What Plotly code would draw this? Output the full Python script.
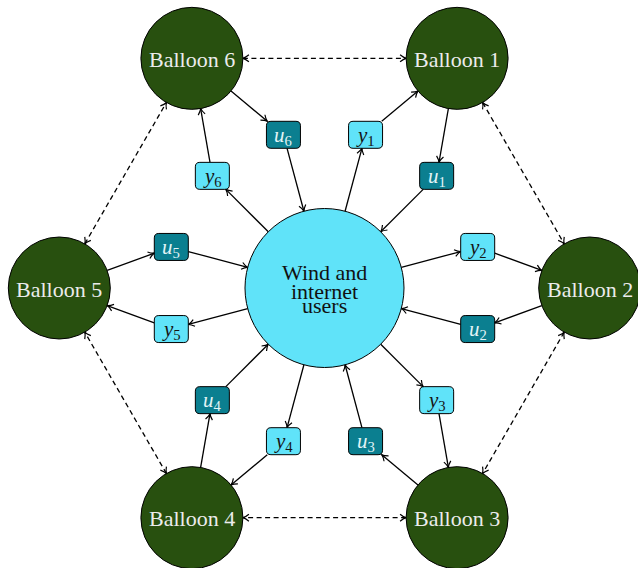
import math
import plotly.graph_objects as go

# ---------------- data ----------------
balloon_names = ["Balloon 1", "Balloon 2", "Balloon 3", "Balloon 4", "Balloon 5", "Balloon 6"]
balloon_angles_deg = [60, 0, -60, -120, 180, 120]
center_lines = ["Wind and", "internet", "users"]
y_labels = ["<i>y</i><sub>1</sub>", "<i>y</i><sub>2</sub>", "<i>y</i><sub>3</sub>",
            "<i>y</i><sub>4</sub>", "<i>y</i><sub>5</sub>", "<i>y</i><sub>6</sub>"]
u_labels = ["<i>u</i><sub>1</sub>", "<i>u</i><sub>2</sub>", "<i>u</i><sub>3</sub>",
            "<i>u</i><sub>4</sub>", "<i>u</i><sub>5</sub>", "<i>u</i><sub>6</sub>"]
# balloon links (dashed, both ways): pairs of balloon indices
balloon_links = [(5, 0), (0, 1), (1, 2), (2, 3), (3, 4), (4, 5)]

# ---------------- geometry / style ----------------
W, H = 638, 568
CX, CY = 324.5, 288.0
R_BALLOON = 265.2
R_LABEL = 158.6
r_center = 79.5
r_ball = 51.0
box_hw, box_hh = 17.0, 13.5
label_offset = 15

CYAN = "#60e3f9"
GREEN = "#28500f"
TEAL = "#0b7f90"
FONT = "'Liberation Serif', 'Times New Roman', 'DejaVu Serif', serif"

def polar(r, deg):
    a = math.radians(deg)
    return (CX + r * math.cos(a), CY - r * math.sin(a))

balloon_pos = [polar(R_BALLOON, a) for a in balloon_angles_deg]
y_pos = [polar(R_LABEL, a + label_offset) for a in balloon_angles_deg]
u_pos = [polar(R_LABEL, a - label_offset) for a in balloon_angles_deg]

shapes = []
annotations = []

def circle_shape(c, r, fill):
    shapes.append(dict(type="circle", xref="x", yref="y",
                       x0=c[0] - r, x1=c[0] + r, y0=c[1] - r, y1=c[1] + r,
                       fillcolor=fill, line=dict(color="black", width=1)))

def rbox_shape(c, fill, rad=4.5):
    x0, x1 = c[0] - box_hw, c[0] + box_hw
    y0, y1 = c[1] - box_hh, c[1] + box_hh
    p = (f"M {x0+rad},{y0} L {x1-rad},{y0} Q {x1},{y0} {x1},{y0+rad} "
         f"L {x1},{y1-rad} Q {x1},{y1} {x1-rad},{y1} L {x0+rad},{y1} "
         f"Q {x0},{y1} {x0},{y1-rad} L {x0},{y0+rad} Q {x0},{y0} {x0+rad},{y0} Z")
    shapes.append(dict(type="path", xref="x", yref="y", path=p,
                       fillcolor=fill, line=dict(color="black", width=1)))

def clip(node, toward):
    kind, c = node
    dx, dy = toward[0] - c[0], toward[1] - c[1]
    d = math.hypot(dx, dy)
    ux, uy = dx / d, dy / d
    if kind == "circle_c":
        t = r_center
    elif kind == "circle_b":
        t = r_ball
    else:
        tx = box_hw / abs(ux) if abs(ux) > 1e-9 else 1e9
        ty = box_hh / abs(uy) if abs(uy) > 1e-9 else 1e9
        t = min(tx, ty)
    return (c[0] + ux * t, c[1] + uy * t)

def arrow_tip(tip, frm, L=6.0, Wd=3.5):
    dx, dy = tip[0] - frm[0], tip[1] - frm[1]
    d = math.hypot(dx, dy)
    ux, uy = dx / d, dy / d
    nx, ny = -uy, ux
    bx, by = tip[0] - L * ux, tip[1] - L * uy
    p1 = (bx + Wd * nx, by + Wd * ny)
    p2 = (bx - Wd * nx, by - Wd * ny)
    c1 = (tip[0] - 0.45 * L * ux + 0.2 * Wd * nx, tip[1] - 0.45 * L * uy + 0.2 * Wd * ny)
    c2 = (tip[0] - 0.45 * L * ux - 0.2 * Wd * nx, tip[1] - 0.45 * L * uy - 0.2 * Wd * ny)
    path = (f"M {p1[0]},{p1[1]} Q {c1[0]},{c1[1]} {tip[0]},{tip[1]} "
            f"Q {c2[0]},{c2[1]} {p2[0]},{p2[1]}")
    shapes.append(dict(type="path", xref="x", yref="y", path=path,
                       line=dict(color="black", width=1.2)))

def edge(a, b, dash="solid", both=False):
    pa = clip(a, b[1])
    pb = clip(b, a[1])
    shapes.append(dict(type="line", xref="x", yref="y",
                       x0=pa[0], y0=pa[1], x1=pb[0], y1=pb[1],
                       line=dict(color="black", width=1.3, dash=dash)))
    arrow_tip(pb, pa)
    if both:
        arrow_tip(pa, pb)

center_node = ("circle_c", (CX, CY))

for k in range(6):
    b = ("circle_b", balloon_pos[k])
    yn = ("box", y_pos[k])
    un = ("box", u_pos[k])
    edge(center_node, yn)
    edge(yn, b)
    edge(b, un)
    edge(un, center_node)
for i, j in balloon_links:
    edge(("circle_b", balloon_pos[i]), ("circle_b", balloon_pos[j]), dash="5px,3.5px", both=True)

circle_shape((CX, CY), r_center, CYAN)
for k in range(6):
    circle_shape(balloon_pos[k], r_ball, GREEN)
    rbox_shape(y_pos[k], CYAN)
    rbox_shape(u_pos[k], TEAL)

for k in range(6):
    bx, by = balloon_pos[k]
    annotations.append(dict(x=bx, y=by + 1, xref="x", yref="y", text=balloon_names[k],
                            showarrow=False, font=dict(family=FONT, size=22, color="#ececec"),
                            xanchor="center", yanchor="middle"))
    annotations.append(dict(x=y_pos[k][0], y=y_pos[k][1] + 1, xref="x", yref="y", text=y_labels[k],
                            showarrow=False, font=dict(family=FONT, size=21, color="#151515"),
                            xanchor="center", yanchor="middle"))
    annotations.append(dict(x=u_pos[k][0], y=u_pos[k][1] + 1, xref="x", yref="y", text=u_labels[k],
                            showarrow=False, font=dict(family=FONT, size=21, color="#e2f4f7"),
                            xanchor="center", yanchor="middle"))

line_y = [CY - 16, CY + 3, CY + 17]
for txt, ly in zip(center_lines, line_y):
    annotations.append(dict(x=CX, y=ly, xref="x", yref="y", text=txt, showarrow=False,
                            font=dict(family=FONT, size=22, color="#111111"),
                            xanchor="center", yanchor="middle"))

fig = go.Figure()
fig.update_layout(
    width=W, height=H,
    margin=dict(l=0, r=0, t=0, b=0),
    paper_bgcolor="white", plot_bgcolor="white",
    xaxis=dict(range=[0, W], visible=False, fixedrange=True),
    yaxis=dict(range=[H, 0], visible=False, fixedrange=True),
    shapes=shapes, annotations=annotations, showlegend=False,
)
fig.write_html("out.html", config=dict(displayModeBar=False),
               post_script="document.body.style.margin='0';document.body.style.overflow='hidden';")
